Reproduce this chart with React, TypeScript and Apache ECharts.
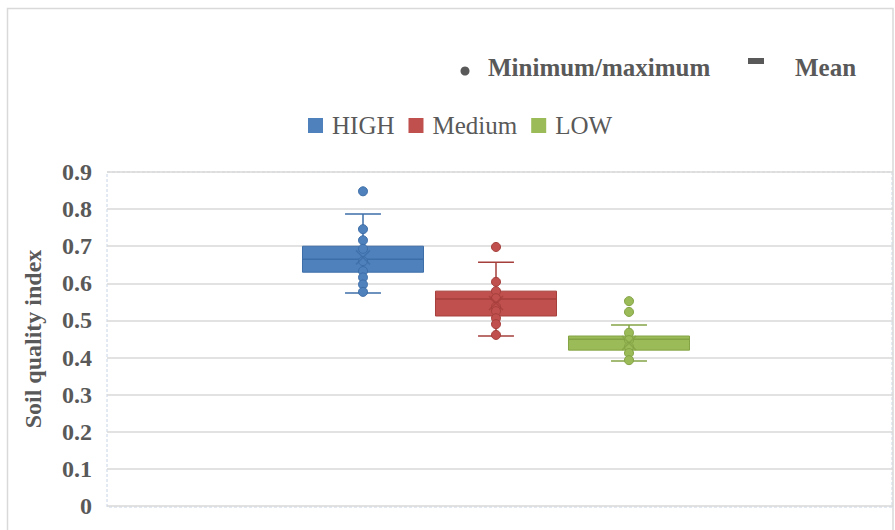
import React, { useEffect, useRef } from "react";
import * as echarts from "echarts";

const categories = ["HIGH", "Medium", "LOW"];
const boxMin = [0.574, 0.458, 0.391];
const boxQ1 = [0.63, 0.512, 0.42];
const boxMedian = [0.665, 0.558, 0.449];
const boxQ3 = [0.7, 0.579, 0.458];
const boxMax = [0.787, 0.657, 0.488];
const means = [0.67, 0.547, 0.439];
const highPoints = [0.848, 0.746, 0.716, 0.693, 0.66, 0.633, 0.616, 0.597, 0.577];
const mediumPoints = [0.698, 0.604, 0.579, 0.56, 0.537, 0.525, 0.506, 0.49, 0.461];
const lowPoints = [0.552, 0.523, 0.467, 0.447, 0.429, 0.412, 0.393];
const yTicks = [0, 0.1, 0.2, 0.3, 0.4, 0.5, 0.6, 0.7, 0.8, 0.9];

const pointSets = [highPoints, mediumPoints, lowPoints];
const fills = ["#4f81bd", "#c0504d", "#9bbb59"];
const strokes = ["#3d6ea8", "#a53f3c", "#83a344"];

const FONT = "'Liberation Serif', 'Times New Roman', serif";
const TEXT = "#595959";

export default function App() {
  const ref = useRef<HTMLDivElement>(null);
  useEffect(() => {
    if (!ref.current) return;
    const chart = echarts.init(ref.current, null, { renderer: "svg" });

    const boxSeries = categories.map((name, i) => ({
      name,
      type: "custom",
      xAxisIndex: 1,
      yAxisIndex: 1,
      z: 3,
      itemStyle: { color: fills[i], borderColor: strokes[i] },
      data: [[i, boxMin[i], boxQ1[i], boxMedian[i], boxQ3[i], boxMax[i]]],
      renderItem: (params: any, api: any) => {
        const x = api.value(0);
        const band = api.size([1, 0])[0];
        const bw = band * 0.91;
        const cw = band * 0.27;
        const pMin = api.coord([x, api.value(1)]);
        const pQ1 = api.coord([x, api.value(2)]);
        const pMed = api.coord([x, api.value(3)]);
        const pQ3 = api.coord([x, api.value(4)]);
        const pMax = api.coord([x, api.value(5)]);
        const cx = pMed[0];
        const ls = { stroke: strokes[i], lineWidth: 1.5 };
        return {
          type: "group",
          children: [
            { type: "line", shape: { x1: cx, y1: pMax[1], x2: cx, y2: pQ3[1] }, style: ls },
            { type: "line", shape: { x1: cx, y1: pMin[1], x2: cx, y2: pQ1[1] }, style: ls },
            { type: "line", shape: { x1: cx - cw / 2, y1: pMax[1], x2: cx + cw / 2, y2: pMax[1] }, style: ls },
            { type: "line", shape: { x1: cx - cw / 2, y1: pMin[1], x2: cx + cw / 2, y2: pMin[1] }, style: ls },
            {
              type: "rect",
              shape: { x: cx - bw / 2, y: pQ3[1], width: bw, height: pQ1[1] - pQ3[1] },
              style: { fill: fills[i], stroke: strokes[i], lineWidth: 1 },
            },
            { type: "line", shape: { x1: cx - bw / 2, y1: pMed[1], x2: cx + bw / 2, y2: pMed[1] }, style: ls },
          ],
        };
      },
    }));

    const pointSeries = categories.map((name, i) => ({
      name: name + " points",
      type: "scatter",
      xAxisIndex: 1,
      yAxisIndex: 1,
      z: 4,
      symbol: "circle",
      symbolSize: 9,
      itemStyle: { color: fills[i], borderColor: strokes[i], borderWidth: 1, opacity: 1 },
      data: pointSets[i].map((v) => [i, v]),
    }));

    const meanSeries = {
      name: "Mean marker",
      type: "scatter",
      xAxisIndex: 1,
      yAxisIndex: 1,
      z: 5,
      symbol: "path://M0,0L10,10M10,0L0,10",
      symbolSize: 14,
      data: means.map((v, i) => ({
        value: [i, v],
        itemStyle: { color: "none", borderColor: strokes[i], borderWidth: 1.5 },
      })),
    };

    chart.setOption({
      animation: false,
      backgroundColor: "#ffffff",
      textStyle: { fontFamily: FONT },
      legend: {
        data: categories,
        left: 303,
        top: 108,
        icon: "rect",
        itemWidth: 15,
        itemHeight: 15,
        itemGap: 14,
        textStyle: { color: TEXT, fontSize: 25, fontFamily: FONT, padding: [0, 0, 0, 4] },
        selectedMode: false,
      },
      grid: [
        { left: 107, top: 172, width: 786, height: 334, containLabel: false },
        { left: 296.5, top: 172, width: 399, height: 334, containLabel: false },
      ],
      xAxis: [
        { type: "category", gridIndex: 0, data: ["x"], show: false },
        { type: "category", gridIndex: 1, data: categories, show: false },
      ],
      yAxis: [
        {
          type: "value",
          gridIndex: 0,
          min: 0,
          max: 0.9,
          interval: 0.1,
          name: "Soil quality index",
          nameLocation: "middle",
          nameRotate: 90,
          nameGap: 62,
          nameTextStyle: { color: TEXT, fontSize: 24, fontWeight: "bold", fontFamily: FONT },
          axisLine: { show: false },
          axisTick: { show: false },
          axisLabel: {
            color: TEXT,
            fontSize: 24,
            fontWeight: "bold",
            fontFamily: FONT,
            margin: 15,
            formatter: (v: number) => {
              const t = yTicks.find((k) => Math.abs(k - v) < 1e-6);
              return t === undefined ? "" : t === 0 ? "0" : t.toFixed(1);
            },
          },
          splitLine: { lineStyle: { color: "#d9d9d9", width: 1.5 } },
        },
        { type: "value", gridIndex: 1, min: 0, max: 0.9, show: false },
      ],
      graphic: [
        {
          type: "rect",
          shape: { x: 7.5, y: 8.5, width: 885.5, height: 540 },
          style: { fill: "none", stroke: "#d9d9d9", lineWidth: 1.5 },
          silent: true,
        },
        {
          type: "rect",
          shape: { x: 107, y: 172, width: 785, height: 335 },
          style: { fill: "none", stroke: "#c6d4e6", lineWidth: 1, lineDash: [3, 2] },
          silent: true,
          z: -1,
        },
        { type: "circle", shape: { cx: 465, cy: 71, r: 4.5 }, style: { fill: TEXT } },
        {
          type: "text",
          x: 488,
          y: 67,
          style: {
            text: "Minimum/maximum",
            fill: TEXT,
            font: `bold 25px ${FONT}`,
            verticalAlign: "middle",
          },
        },
        { type: "rect", shape: { x: 748, y: 58, width: 16, height: 6 }, style: { fill: TEXT } },
        {
          type: "text",
          x: 795,
          y: 67,
          style: { text: "Mean", fill: TEXT, font: `bold 25px ${FONT}`, verticalAlign: "middle" },
        },
      ],
      series: [...boxSeries, ...pointSeries, meanSeries],
    });
    return () => chart.dispose();
  }, []);
  return (
    <div
      ref={ref}
      style={{ position: "fixed", left: 0, top: 0, width: 895, height: 530 }}
    />
  );
}
